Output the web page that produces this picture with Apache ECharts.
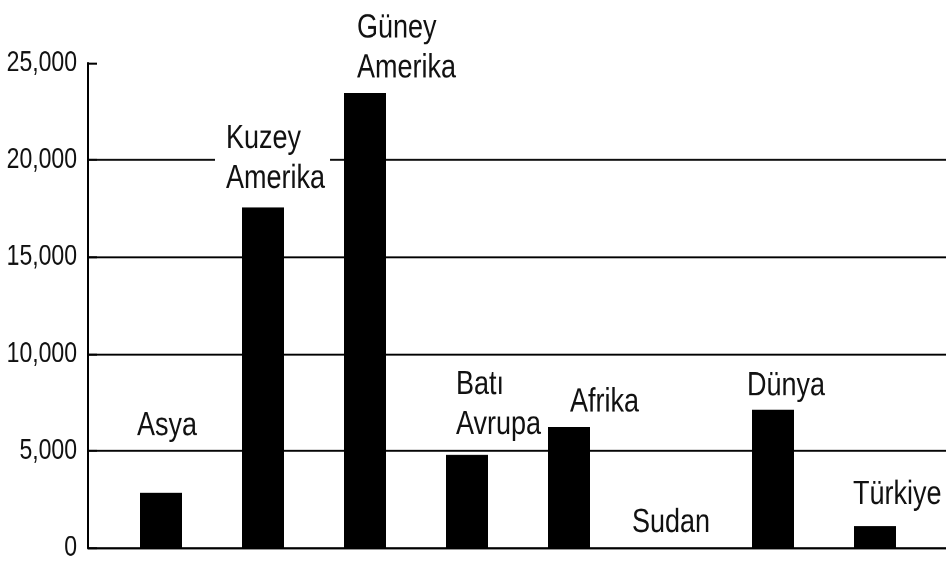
<!DOCTYPE html>
<html>
<head>
<meta charset="utf-8">
<script src="https://cdn.jsdelivr.net/npm/echarts@6/dist/echarts.min.js"></script>
<style>
html,body{margin:0;padding:0;background:#fff;overflow:hidden}
#wrap{width:946px;height:562px;overflow:hidden}
#c{width:946px;height:450px;transform-origin:0 0;transform:scaleY(1.248889)}
</style>
</head>
<body>
<div id="wrap"><div id="c"></div></div>
<script>
// ---- data ----
const categories = ['Asya', 'Kuzey\nAmerika', 'Güney\nAmerika', 'Batı\nAvrupa', 'Afrika', 'Sudan', 'Dünya', 'Türkiye'];
const values = [2850, 17550, 23450, 4800, 6230, 0, 7130, 1140];
const yTicks = [0, 5000, 10000, 15000, 20000, 25000];

// ---- label styling (text left edge relative to bar centre, baseline gap above bar, in page px) ----
const labelDx = [-24, -37, -8, -11, 1, -39, -26, -22];
const labelGap = [57, 19, 15, 20, 15, 15, 14, 21];

const K = 562 / 450;               // vertical stretch of the whole drawing
const FONT = "'Liberation Sans', Arial, Helvetica, sans-serif";
const padL = 11, padR = 5;
const chart = echarts.init(document.getElementById('c'), null, {renderer: 'canvas', devicePixelRatio: 2});
const yMin = yTicks[0], yMax = yTicks[yTicks.length - 1], yStep = yTicks[1] - yTicks[0];
const hLine = 2 / K;

const option = {
  animation: false,
  backgroundColor: '#fff',
  grid: [
    {left: 88, right: 0, top: 63 / K, bottom: 14 / K, outerBoundsMode: 'none', containLabel: false},
    {left: 110, right: 20, top: 63 / K, bottom: 14 / K, outerBoundsMode: 'none', containLabel: false}
  ],
  xAxis: [
    {gridIndex: 0, type: 'category', data: categories, boundaryGap: true,
     axisLine: {show: true, lineStyle: {color: '#000', width: hLine}},
     axisTick: {show: false}, axisLabel: {show: false}, splitLine: {show: false}},
    {gridIndex: 1, type: 'category', data: categories, boundaryGap: true,
     axisLine: {show: false}, axisTick: {show: false}, axisLabel: {show: false}}
  ],
  yAxis: [
    {gridIndex: 0, type: 'value', min: yMin, max: yMax, interval: yStep,
     axisLine: {show: true, lineStyle: {color: '#000', width: 2}},
     axisTick: {show: true, inside: true, length: 9, lineStyle: {color: '#000', width: hLine}},
     axisLabel: {margin: 11, color: '#111', fontSize: 23, fontFamily: FONT,
       formatter: v => v === 0 ? '0' : v.toLocaleString('en-US')},
     splitLine: {show: true, showMaxLine: false, lineStyle: {color: '#000', width: hLine}}},
    {gridIndex: 1, type: 'value', min: yMin, max: yMax, interval: yStep, show: false,
     splitLine: {show: false}}
  ],
  series: [{
    type: 'bar',
    xAxisIndex: 1, yAxisIndex: 1,
    barWidth: 42,
    z: 5,
    itemStyle: {color: '#000'},
    data: values.map((v, i) => ({
      value: v,
      label: {offset: [labelDx[i] - padL, -(labelGap[i] / K - 8)]}
    })),
    label: {
      show: true, position: 'top', distance: 0,
      align: 'left',
      formatter: p => p.name,
      fontSize: 27, lineHeight: 32, fontFamily: FONT, color: '#111',
      backgroundColor: '#fff', padding: [0, padR, 0, padL]
    }
  }]
};
chart.setOption(option);
</script>
</body>
</html>
